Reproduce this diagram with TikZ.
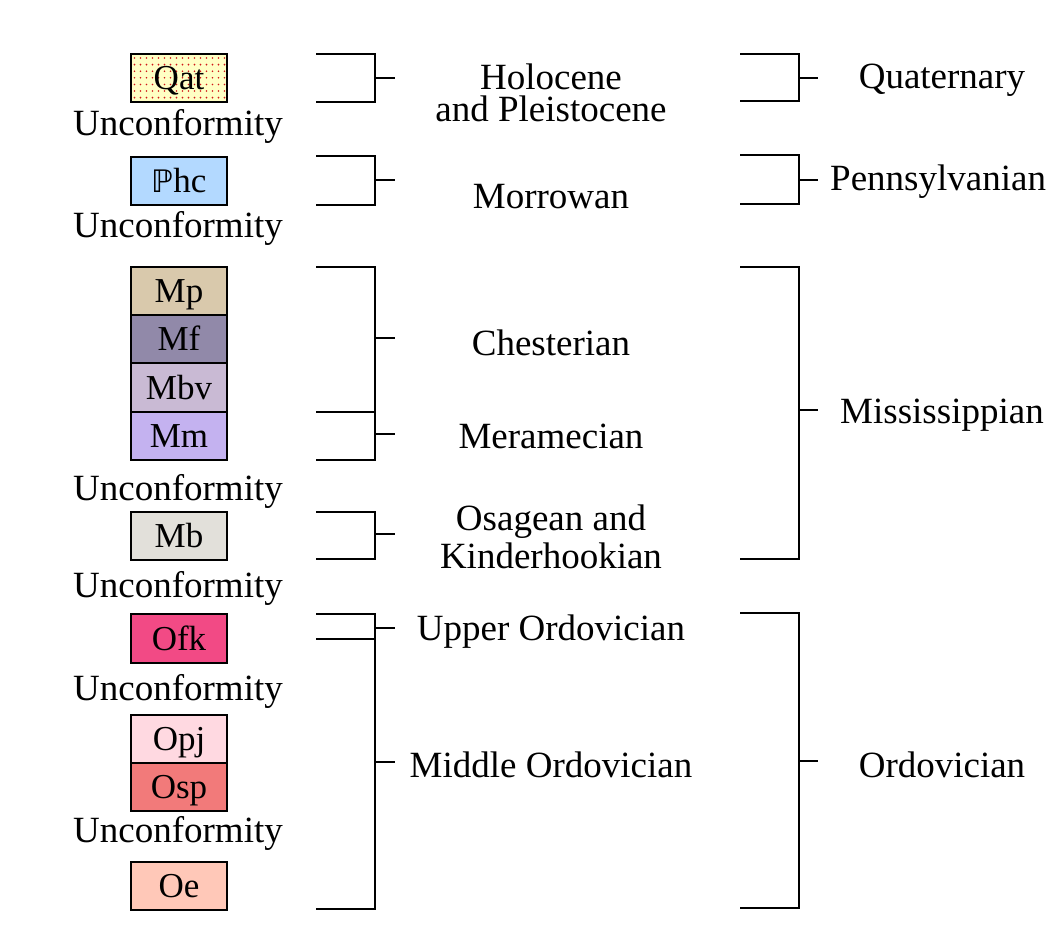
\documentclass[tikz,border=0pt]{standalone}
\usepackage{fontspec}
\setmainfont{Liberation Serif}
\newfontfamily\symfont{DejaVu Sans}
\definecolor{qatcol}{HTML}{FFFFC4}
\definecolor{dotcol}{HTML}{D01818}
\definecolor{phccol}{HTML}{B3D9FF}
\definecolor{mpcol}{HTML}{D9C9AC}
\definecolor{mfcol}{HTML}{9189A9}
\definecolor{mbvcol}{HTML}{C9BAD4}
\definecolor{mmcol}{HTML}{C4B2F0}
\definecolor{mbcol}{HTML}{E2E0DA}
\definecolor{ofkcol}{HTML}{F24A85}
\definecolor{opjcol}{HTML}{FFD9E1}
\definecolor{ospcol}{HTML}{F27A7A}
\definecolor{oecol}{HTML}{FFC8B8}
\newcommand\geobracket[6]{%
  \draw[brk] (#1,#4) -| (#2,#5) -- (#1,#5);
  \draw[brk] (#2,#6) -- (#3,#6);}
\begin{document}
\begin{tikzpicture}[x=1pt,y=-1pt,
  unitbox/.style={draw=black, line width=2.6pt, minimum width=96pt, minimum height=48pt,
    inner sep=0pt, text height=23pt, text depth=0pt, font=\fontsize{35}{35}\selectfont},
  txt/.style={inner sep=0pt, anchor=base, font=\fontsize{37}{30}\selectfont, align=center},
  brk/.style={line width=2.6pt, line join=miter}]
\useasboundingbox (0,0) rectangle (1050,935);
% Qat with dot pattern
\fill[qatcol] (131,54) rectangle (227,102);
\foreach \i in {0,...,15} {\foreach \j in {0,...,6} {
  \fill[dotcol] (134.5+6*\i,58+6.6*\j) circle (0.9pt);}}
\node[unitbox] (qat) at (179,78) {Qat};
\node[unitbox, fill=phccol] (phc) at (179,181) {{\symfont\fontsize{31}{31}\selectfont ℙ}hc};
\node[unitbox, fill=mpcol] (mp) at (179,291) {Mp};
\node[unitbox, fill=mfcol] (mf) at (179,339) {Mf};
\node[unitbox, fill=mbvcol, minimum height=49pt] (mbv) at (179,387.5) {Mbv};
\node[unitbox, fill=mmcol] (mm) at (179,436) {Mm};
\node[unitbox, fill=mbcol] (mb) at (179,536) {Mb};
\node[unitbox, fill=ofkcol, minimum height=49pt] (ofk) at (179,638.5) {Ofk};
\node[unitbox, fill=opjcol] (opj) at (179,739) {Opj};
\node[unitbox, fill=ospcol] (osp) at (179,787) {Osp};
\node[unitbox, fill=oecol] (oe) at (179,886) {Oe};
% Unconformities
\node[txt] (u1) at (178,135) {Unconformity};
\node[txt] (u2) at (178,237) {Unconformity};
\node[txt] (u3) at (178,500) {Unconformity};
\node[txt] (u4) at (178,597) {Unconformity};
\node[txt] (u5) at (178,700) {Unconformity};
\node[txt] (u6) at (178,842) {Unconformity};
% series brackets
\geobracket{316}{375}{395}{54}{102}{78}
\geobracket{316}{375}{395}{156}{205}{180}
\geobracket{316}{375}{395}{267}{412}{338}
\geobracket{316}{375}{395}{412}{460}{434}
\geobracket{316}{375}{395}{512}{559}{534}
\geobracket{316}{375}{395}{614}{639}{628}
\geobracket{316}{375}{395}{639}{909}{762}
% system brackets
\geobracket{740}{799}{818}{54}{101}{78}
\geobracket{740}{799}{818}{155}{204}{180}
\geobracket{740}{799}{818}{267}{559}{410}
\geobracket{740}{799}{818}{613}{908}{761}
% series labels
\node[txt, font=\fontsize{37}{32}\selectfont] (holo) at (551,121) {Holocene\\and Pleistocene};
\node[txt] (morr) at (551,208) {Morrowan};
\node[txt] (ches) at (551,355) {Chesterian};
\node[txt] (mera) at (551,448) {Meramecian};
\node[txt, font=\fontsize{37}{38}\selectfont] (osag) at (551,568) {Osagean and\\Kinderhookian};
\node[txt] (upor) at (551,640) {Upper Ordovician};
\node[txt] (mior) at (551,777) {Middle Ordovician};
% system labels
\node[txt] (quat) at (942,88) {Quaternary};
\node[txt, anchor=base west] (penn) at (830,190) {Pennsylvanian};
\node[txt] (miss) at (942,423) {Mississippian};
\node[txt] (ordo) at (942,777) {Ordovician};
\end{tikzpicture}
\end{document}
